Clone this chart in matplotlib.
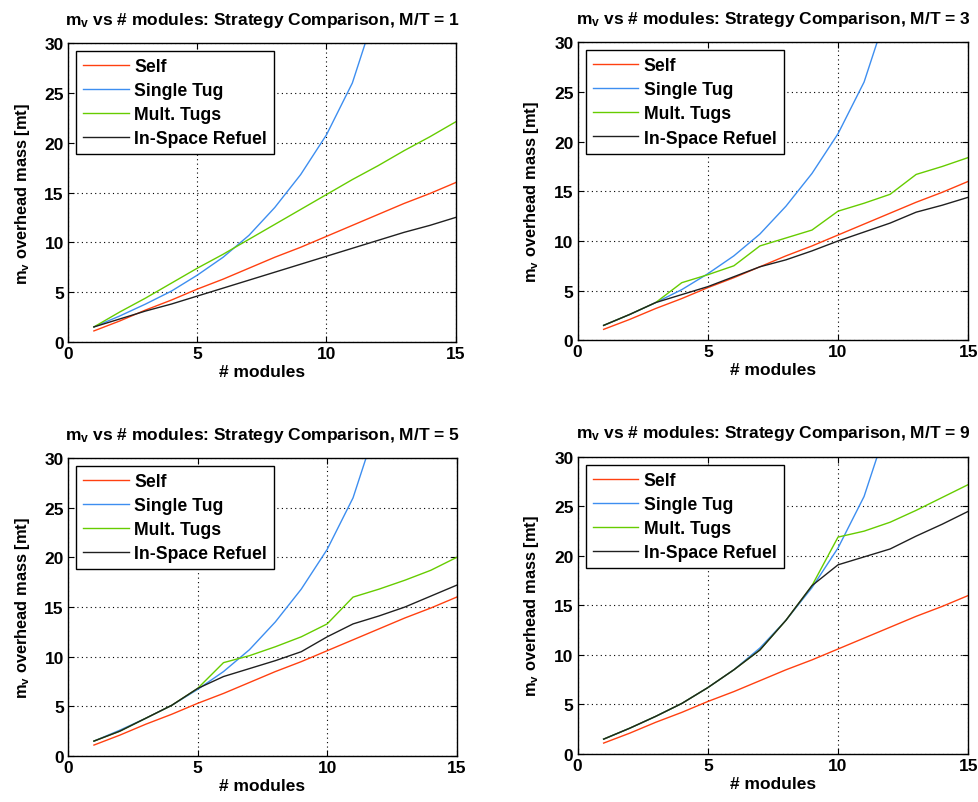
import matplotlib
matplotlib.use("Agg")
import matplotlib.pyplot as plt

plt.rcParams["font.family"] = ["Liberation Sans", "DejaVu Sans"]
plt.rcParams["mathtext.fontset"] = "custom"
plt.rcParams["mathtext.rm"] = "Liberation Sans:bold"
plt.rcParams["mathtext.default"] = "rm"

# number of modules
modules = list(range(1, 16))

# common curves (same in every panel)
self_mass = [1.1, 2.1, 3.2, 4.2, 5.3, 6.3, 7.4, 8.5, 9.5, 10.6, 11.7, 12.8, 13.9, 14.9, 16.0]
single_tug = [1.5, 2.6, 3.8, 5.1, 6.7, 8.5, 10.7, 13.5, 16.8, 20.8, 26.0, 34.0, 40.0, 48.0, 58.0]

# M/T = 1
mult_mt1 = [1.5, 3.0, 4.4, 5.9, 7.4, 8.8, 10.3, 11.8, 13.3, 14.8, 16.3, 17.7, 19.2, 20.6, 22.1]
refuel_mt1 = [1.5, 2.3, 3.1, 3.8, 4.6, 5.4, 6.2, 7.0, 7.8, 8.6, 9.4, 10.2, 11.0, 11.7, 12.5]
# M/T = 3
mult_mt3 = [1.5, 2.6, 3.8, 5.8, 6.6, 7.5, 9.5, 10.3, 11.1, 13.0, 13.8, 14.7, 16.7, 17.5, 18.4]
refuel_mt3 = [1.5, 2.6, 3.8, 4.6, 5.4, 6.4, 7.4, 8.1, 9.0, 10.0, 10.9, 11.8, 12.9, 13.6, 14.4]
# M/T = 5
mult_mt5 = [1.5, 2.5, 3.8, 5.1, 6.8, 9.4, 10.1, 11.0, 12.0, 13.3, 16.0, 16.8, 17.7, 18.7, 20.0]
refuel_mt5 = [1.5, 2.5, 3.8, 5.1, 6.8, 8.0, 8.8, 9.6, 10.5, 12.0, 13.3, 14.1, 15.0, 16.1, 17.2]
# M/T = 9
mult_mt9 = [1.5, 2.6, 3.8, 5.1, 6.7, 8.5, 10.5, 13.5, 17.0, 21.9, 22.5, 23.4, 24.6, 25.9, 27.2]
refuel_mt9 = [1.5, 2.6, 3.8, 5.1, 6.7, 8.5, 10.5, 13.5, 17.0, 19.1, 19.9, 20.7, 22.0, 23.2, 24.5]

mt_ratios = [1, 3, 5, 9]
mult_tugs = [mult_mt1, mult_mt3, mult_mt5, mult_mt9]
refuel = [refuel_mt1, refuel_mt3, refuel_mt5, refuel_mt9]

labels = ["Self", "Single Tug", "Mult. Tugs", "In-Space Refuel"]
colors = ["#ff4010", "#3d8ef0", "#66cc00", "#202020"]

positions = [
    [0.0695, 0.573, 0.396, 0.372],
    [0.590, 0.575, 0.399, 0.371],
    [0.0695, 0.0573, 0.397, 0.371],
    [0.590, 0.0598, 0.399, 0.370],
]

fig = plt.figure(figsize=(9.79, 8.03), dpi=100)

for pos, mt, mult, ref in zip(positions, mt_ratios, mult_tugs, refuel):
    ax = fig.add_axes(pos)
    series = [self_mass, single_tug, mult, ref]
    for ys, lab, col in zip(series, labels, colors):
        ax.plot(modules, ys, color=col, lw=1.0, label=lab)

    ax.set_xlim(0, 15)
    ax.set_ylim(0, 30)
    ax.set_xticks([0, 5, 10, 15])
    ax.set_yticks([0, 5, 10, 15, 20, 25, 30])
    ax.grid(True, color="black", linestyle=(0, (1, 3)), linewidth=0.8)
    ax.tick_params(direction="in", top=True, right=True, labelsize=12.5,
                   length=4, width=0.8, pad=3)
    for t in ax.get_xticklabels() + ax.get_yticklabels():
        t.set_fontweight("bold")
    for s in ax.spines.values():
        s.set_linewidth(1.0)

    ax.set_title(f"m$_v$ vs # modules: Strategy Comparison, M/T = {mt}",
                 fontsize=12.5, fontweight="bold", pad=14)
    ax.set_xlabel("# modules", fontsize=12.5, fontweight="bold", labelpad=2)
    ax.set_ylabel("m$_v$ overhead mass [mt]", fontsize=11.8, fontweight="bold",
                  labelpad=9)

    leg = ax.legend(loc="upper left", fancybox=False,
                    framealpha=1, edgecolor="black", borderaxespad=0.45,
                    handlelength=2.6, handletextpad=0.3, labelspacing=0.4,
                    borderpad=0.4, prop={"weight": "bold", "size": 12.7})
    leg.get_frame().set_linewidth(1.0)

fig.savefig("out.png", dpi=100)
